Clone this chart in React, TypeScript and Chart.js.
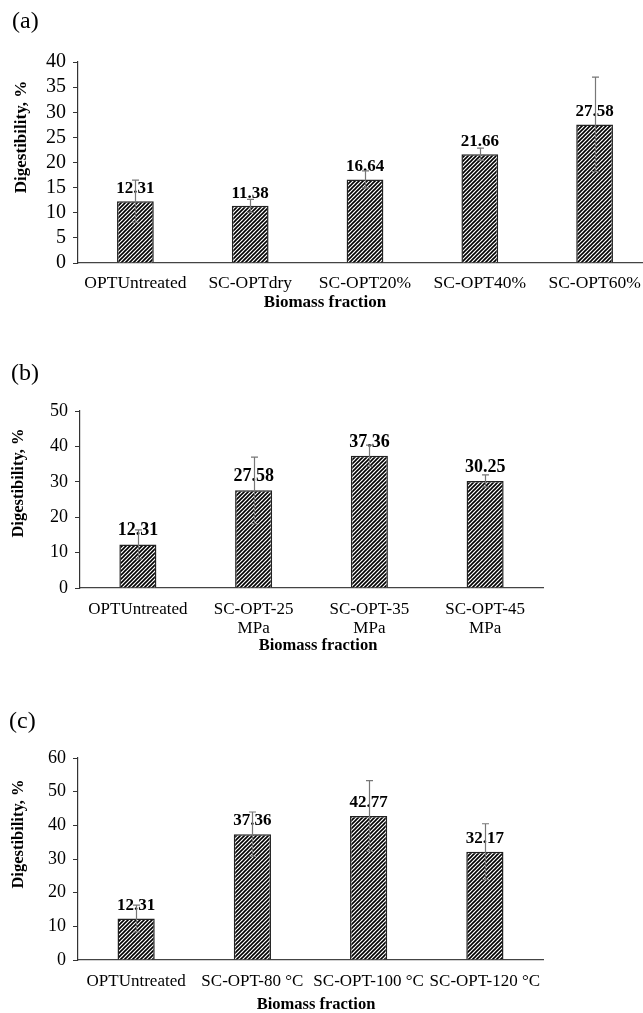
import React, { useEffect, useRef } from 'react';
import { Chart, registerables } from 'chart.js';

Chart.register(...registerables);

// ---------- data ----------
const catsA: (string | string[])[] = ['OPTUntreated', 'SC-OPTdry', 'SC-OPT20%', 'SC-OPT40%', 'SC-OPT60%'];
const valsA = [12.31, 11.38, 16.64, 21.66, 27.58];
const errA = [4.2, 1.3, 1.7, 1.2, 9.4];

const catsB: (string | string[])[] = ['OPTUntreated', ['SC-OPT-25', 'MPa'], ['SC-OPT-35', 'MPa'], ['SC-OPT-45', 'MPa']];
const valsB = [12.31, 27.58, 37.36, 30.25];
const errB = [4.1, 9.4, 3.0, 1.7];

const catsC: (string | string[])[] = ['OPTUntreated', 'SC-OPT-80 °C', 'SC-OPT-100 °C', 'SC-OPT-120 °C'];
const valsC = [12.31, 37.36, 42.77, 32.17];
const errC = [4.0, 6.6, 10.5, 8.3];

const yAxisTitle = 'Digestibility, %';
const xAxisTitle = 'Biomass fraction';

const SERIF = '"Liberation Serif", "Times New Roman", serif';

type PanelCfg = {
  label: string;
  cats: (string | string[])[];
  vals: number[];
  errs: number[];
  yMax: number;
  yStep: number;
  top: number;
  w: number;
  h: number;
  area: { l: number; r: number; t: number; b: number };
  tickFont: number;
  catFont: number;
  catLineHeight: number;
  catPad: number;
  valueFont: number;
  valueGap: number;
  labelPos: { x: number; y: number };
  xTitlePos: { x: number; y: number };
  yTitlePos: { x: number; y: number };
  titleFont: number;
};

const panels: PanelCfg[] = [
  {
    label: '(a)', cats: catsA, vals: valsA, errs: errA, yMax: 40, yStep: 5,
    top: 0, w: 660, h: 320, area: { l: 78, r: 652, t: 62, b: 263 },
    tickFont: 20, catFont: 17.5, catLineHeight: 1.2, catPad: 9.5, valueFont: 17, valueGap: 8,
    labelPos: { x: 12, y: 22 }, xTitlePos: { x: 325, y: 303 }, yTitlePos: { x: 22, y: 137 }, titleFont: 17,
  },
  {
    label: '(b)', cats: catsB, vals: valsB, errs: errB, yMax: 50, yStep: 10,
    top: 340, w: 643, h: 330, area: { l: 80, r: 543, t: 71, b: 248 },
    tickFont: 18, catFont: 17, catLineHeight: 1.1, catPad: 12, valueFont: 18, valueGap: 9,
    labelPos: { x: 11, y: 34 }, xTitlePos: { x: 318, y: 306 }, yTitlePos: { x: 19, y: 143 }, titleFont: 16.5,
  },
  {
    label: '(c)', cats: catsC, vals: valsC, errs: errC, yMax: 60, yStep: 10,
    top: 680, w: 643, h: 333, area: { l: 78, r: 543, t: 78, b: 280 },
    tickFont: 18, catFont: 17, catLineHeight: 1.2, catPad: 11.8, valueFont: 17, valueGap: 9,
    labelPos: { x: 9, y: 42 }, xTitlePos: { x: 316, y: 325 }, yTitlePos: { x: 19, y: 154 }, titleFont: 16.5,
  },
];

function makeHatch(ctx: CanvasRenderingContext2D): CanvasPattern | string {
  const s = 4;
  const c = document.createElement('canvas');
  c.width = s;
  c.height = s;
  const g = c.getContext('2d');
  if (!g) return '#555';
  g.fillStyle = '#ffffff';
  g.fillRect(0, 0, s, s);
  g.strokeStyle = '#000000';
  g.lineWidth = 1.6;
  g.beginPath();
  g.moveTo(-1, s + 1);
  g.lineTo(s + 1, -1);
  g.moveTo(-1, 1);
  g.lineTo(1, -1);
  g.moveTo(s - 1, s + 1);
  g.lineTo(s + 1, s - 1);
  g.stroke();
  return ctx.createPattern(c, 'repeat') || '#555';
}

const annotPlugin = {
  id: 'annot',
  afterDatasetsDraw(chart: any, _args: any, opts: any) {
    const { ctx } = chart;
    const meta = chart.getDatasetMeta(0);
    const ys = chart.scales.y;
    const cfg: PanelCfg = opts.cfg;
    ctx.save();
    // value labels
    ctx.font = `bold ${cfg.valueFont}px ${SERIF}`;
    ctx.fillStyle = '#000';
    ctx.textAlign = 'center';
    ctx.textBaseline = 'alphabetic';
    meta.data.forEach((bar: any, i: number) => {
      ctx.fillText(cfg.vals[i].toFixed(2), bar.x, bar.y - cfg.valueGap);
    });
    // error bars
    ctx.strokeStyle = '#777';
    ctx.lineWidth = 1.2;
    meta.data.forEach((bar: any, i: number) => {
      const v = cfg.vals[i];
      const e = cfg.errs[i];
      const yt = ys.getPixelForValue(v + e);
      const yb = ys.getPixelForValue(v - e);
      const x = Math.round(bar.x) + 0.5;
      const cap = 3.5;
      ctx.beginPath();
      ctx.moveTo(x, yt);
      ctx.lineTo(x, yb);
      ctx.moveTo(x - cap, yt);
      ctx.lineTo(x + cap, yt);
      ctx.moveTo(x - cap, yb);
      ctx.lineTo(x + cap, yb);
      ctx.stroke();
    });
    ctx.restore();
  },
  afterDraw(chart: any, _args: any, opts: any) {
    const { ctx } = chart;
    const cfg: PanelCfg = opts.cfg;
    ctx.save();
    ctx.fillStyle = '#000';
    // panel label
    ctx.font = `24px ${SERIF}`;
    ctx.textAlign = 'left';
    ctx.textBaseline = 'middle';
    ctx.fillText(cfg.label, cfg.labelPos.x, cfg.labelPos.y);
    // x title
    ctx.font = `bold ${cfg.titleFont}px ${SERIF}`;
    ctx.textAlign = 'center';
    ctx.textBaseline = 'middle';
    ctx.fillText(xAxisTitle, cfg.xTitlePos.x, cfg.xTitlePos.y);
    // y title
    ctx.translate(cfg.yTitlePos.x, cfg.yTitlePos.y);
    ctx.rotate(-Math.PI / 2);
    ctx.fillText(yAxisTitle, 0, 0);
    ctx.restore();
  },
};

function Panel({ cfg }: { cfg: PanelCfg }) {
  const ref = useRef<HTMLCanvasElement>(null);
  useEffect(() => {
    const canvas = ref.current;
    if (!canvas) return;
    const ctx = canvas.getContext('2d')!;
    const hatch = makeHatch(ctx);
    const chart = new Chart(canvas, {
      type: 'bar',
      data: {
        labels: cfg.cats as any,
        datasets: [
          {
            data: cfg.vals,
            backgroundColor: hatch as any,
            borderColor: '#222',
            borderWidth: 1.5,
            categoryPercentage: 1,
            barPercentage: 0.32,
          },
        ],
      },
      options: {
        responsive: false,
        animation: false,
        devicePixelRatio: 1,
        layout: {
          padding: { left: 0, right: cfg.w - cfg.area.r, top: cfg.area.t, bottom: 0 },
        },
        plugins: {
          legend: { display: false },
          tooltip: { enabled: false },
          annot: { cfg },
        } as any,
        scales: {
          x: {
            type: 'category',
            offset: true,
            grid: { display: true, drawOnChartArea: false, drawTicks: false, color: '#444' },
            border: { display: true, color: '#444', width: 1.2 },
            ticks: {
              color: '#000',
              font: { family: SERIF, size: cfg.catFont, lineHeight: cfg.catLineHeight },
              padding: cfg.catPad,
              maxRotation: 0,
              minRotation: 0,
              autoSkip: false,
            },
            afterFit: (scale: any) => {
              scale.height = cfg.h - cfg.area.b;
            },
          },
          y: {
            type: 'linear',
            min: 0,
            max: cfg.yMax,
            grid: { display: true, drawOnChartArea: false, drawTicks: true, tickLength: 5, color: '#333' },
            border: { display: true, color: '#333', width: 1.2 },
            ticks: {
              stepSize: cfg.yStep,
              autoSkip: false,
              color: '#000',
              font: { family: SERIF, size: cfg.tickFont },
              padding: 7,
            },
            afterFit: (scale: any) => {
              scale.width = cfg.area.l;
            },
          },
        },
      },
      plugins: [annotPlugin as any],
    });
    return () => chart.destroy();
  }, [cfg]);
  return (
    <canvas
      ref={ref}
      width={cfg.w}
      height={cfg.h}
      style={{ position: 'absolute', left: 0, top: cfg.top, width: cfg.w, height: cfg.h }}
    />
  );
}

export default function App() {
  return (
    <div
      style={{
        position: 'absolute',
        left: 0,
        top: 0,
        width: 643,
        height: 1013,
        overflow: 'hidden',
        background: '#fff',
      }}
    >
      {panels.map((p) => (
        <Panel key={p.label} cfg={p} />
      ))}
    </div>
  );
}
